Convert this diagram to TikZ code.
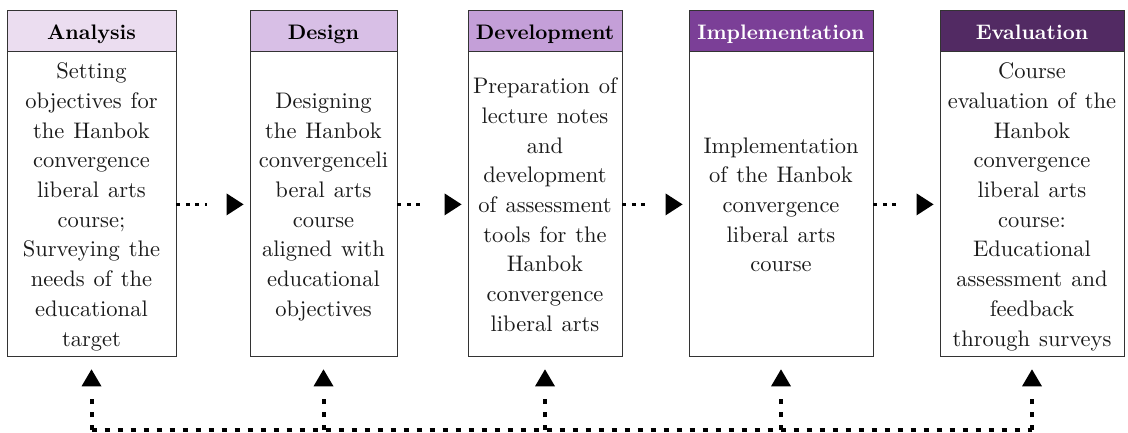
\documentclass[tikz,border=0pt]{standalone}
\usepackage{fontspec}
\setmainfont{lmroman10-regular.otf}[BoldFont=lmroman10-bold.otf]
\usetikzlibrary{arrows.meta}
\definecolor{cA}{HTML}{EBDDF0}
\definecolor{cB}{HTML}{D8BFE6}
\definecolor{cC}{HTML}{C49FD8}
\definecolor{cD}{HTML}{7B3F97}
\definecolor{cE}{HTML}{522A63}
\definecolor{edge}{HTML}{333333}
\definecolor{txt}{HTML}{1A1A1A}
\newcommand\topstrutx{\rule{0pt}{21pt}}
\newcommand\botstrutx{\rule[-5pt]{0pt}{5pt}}
\tikzset{
  head/.style={draw=edge, line width=0.9pt, minimum height=41pt, inner sep=0pt,
    text height=21pt, text depth=2pt,
    font={\fontsize{21}{24}\selectfont\bfseries}},
  bodybox/.style={draw=edge, line width=0.9pt, minimum height=305pt, inner sep=0pt,
    anchor=north, align=center, text=txt,
    font={\fontsize{22.5}{29.7}\selectfont\spaceskip=9pt plus 2pt minus 1pt}},
  flow/.style={line width=3pt, dash pattern=on 4pt off 5.5pt, shorten >=43pt,
    postaction={draw, line width=0.1pt, dash pattern=on 0pt off 2000pt, shorten >=6pt,
      -{Triangle[length=17pt,width=22pt,line width=0pt]}}},
  fbline/.style={line width=4pt, dash pattern=on 5pt off 8pt},
  fbup/.style={fbline, shorten >=37pt,
    postaction={draw, line width=0.1pt, dash pattern=on 0pt off 2000pt, shorten >=12pt,
      -{Triangle[length=17pt,width=20pt,line width=0pt]}}},
}
\begin{document}
\begin{tikzpicture}[x=1pt,y=1pt]
\useasboundingbox (0,0) rectangle (1128,432);
% headers
\node[head, minimum width=169pt, fill=cA] (h1) at (91.5,401.5) {Analysis};
\node[head, minimum width=147pt, fill=cB] (h2) at (323.5,401.5) {Design};
\node[head, minimum width=154pt, fill=cC] (h3) at (545,401.5) {Development};
\node[head, minimum width=184pt, fill=cD, text=white] (h4) at (781,401.5) {Implementation};
\node[head, minimum width=184pt, fill=cE, text=white] (h5) at (1032,401.5) {Evaluation};
% bodies
\node[bodybox, minimum width=169pt] (b1) at (h1.south) {\topstrutx Setting\\objectives for\\the Hanbok\\convergence\\liberal arts\\course;\\Surveying the\\needs of the\\educational\\target\botstrutx};
\node[bodybox, minimum width=147pt] (b2) at (h2.south) {\topstrutx Designing\\the Hanbok\\convergenceli\\beral arts\\course\\aligned with\\educational\\objectives\botstrutx};
\node[bodybox, minimum width=154pt] (b3) at (h3.south) {\topstrutx Preparation of\\lecture notes\\and\\development\\of assessment\\tools for the\\Hanbok\\convergence\\liberal arts\botstrutx};
\node[bodybox, minimum width=184pt] (b4) at (h4.south) {\topstrutx Implementation\\of the Hanbok\\convergence\\liberal arts\\course\botstrutx};
\node[bodybox, minimum width=184pt] (b5) at (h5.south) {\topstrutx Course\\evaluation of the\\Hanbok\\convergence\\liberal arts\\course:\\Educational\\assessment and\\feedback\\through surveys\botstrutx};
% forward flow
\draw[flow] (b1.east) -- (b2.west);
\draw[flow] (b2.east) -- (b3.west);
\draw[flow] (b3.east) -- (b4.west);
\draw[flow] (b4.east) -- (b5.west);
% feedback loop
\coordinate (base) at (0,2);
\draw[fbline] (b1.south |- base) -- (b5.south |- base);
\draw[fbup] (b1.south |- base) -- (b1.south);
\draw[fbup] (b2.south |- base) -- (b2.south);
\draw[fbup] (b3.south |- base) -- (b3.south);
\draw[fbup] (b4.south |- base) -- (b4.south);
\draw[fbup] (b5.south |- base) -- (b5.south);
\end{tikzpicture}
\end{document}
